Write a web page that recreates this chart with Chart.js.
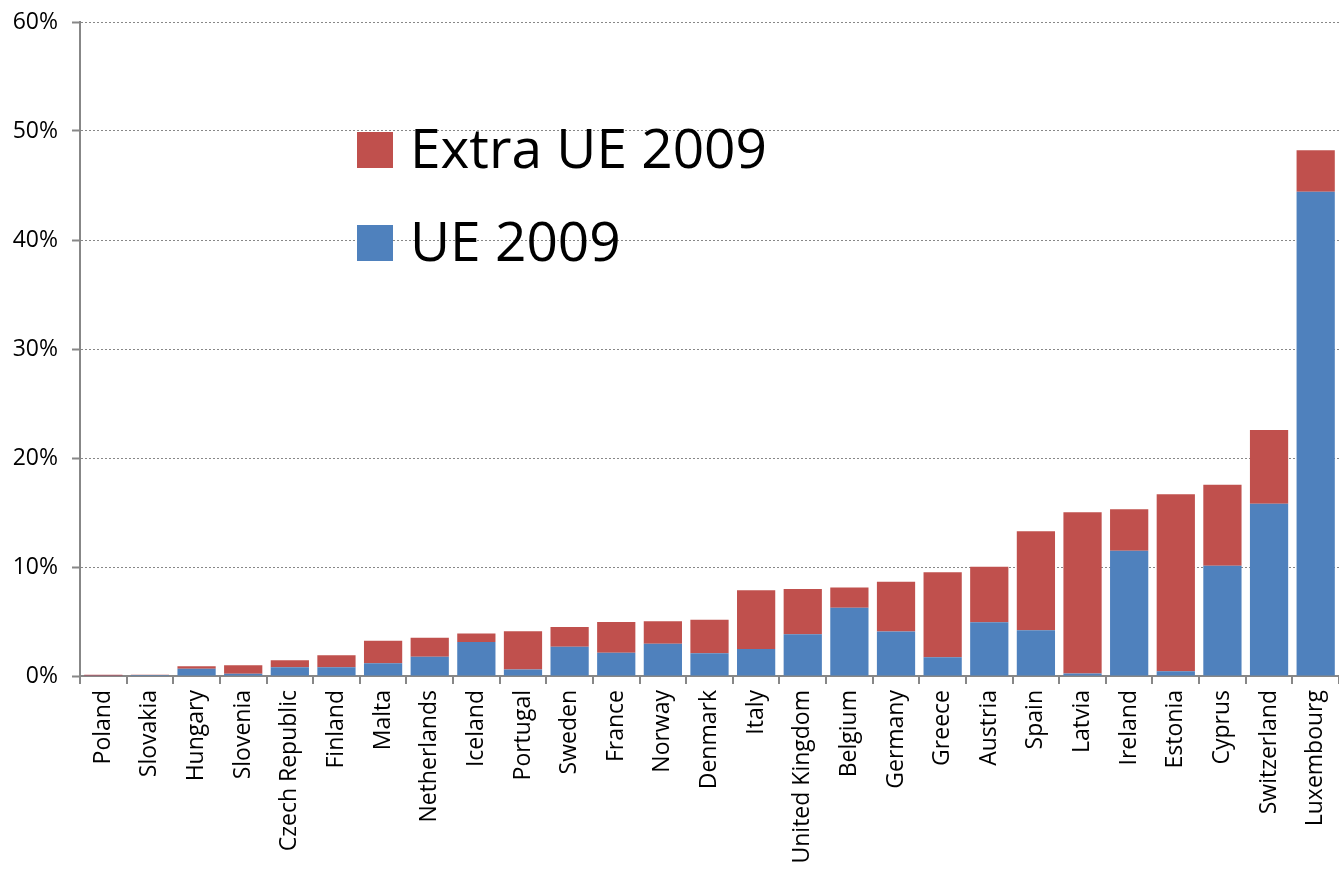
<!DOCTYPE html>
<html>
<head>
<meta charset="utf-8">
<title>UE / Extra UE 2009</title>
<script src="https://cdn.jsdelivr.net/npm/chart.js@4/dist/chart.umd.min.js"></script>
<style>
    html, body { margin: 0; padding: 0; background: #fff; }
    #wrap { width: 1339px; height: 869px; position: relative; }
</style>
</head>
<body>
<div id="wrap"><canvas id="grafico"></canvas></div>
<script>
// countries, sorted by total share
const paises = ['Poland', 'Slovakia', 'Hungary', 'Slovenia', 'Czech Republic', 'Finland', 'Malta',
    'Netherlands', 'Iceland', 'Portugal', 'Sweden', 'France', 'Norway', 'Denmark', 'Italy',
    'United Kingdom', 'Belgium', 'Germany', 'Greece', 'Austria', 'Spain', 'Latvia', 'Ireland',
    'Estonia', 'Cyprus', 'Switzerland', 'Luxembourg'];

// % values
const ue2009 = [0.02, 0.10, 0.67, 0.21, 0.80, 0.80, 1.16, 1.77, 3.12, 0.60, 2.69, 2.14, 2.97, 2.08,
    2.48, 3.82, 6.27, 4.08, 1.71, 4.92, 4.19, 0.24, 11.50, 0.43, 10.12, 15.81, 44.43];
const extraUe2009 = [0.10, 0.02, 0.22, 0.77, 0.64, 1.10, 2.08, 1.75, 0.79, 3.50, 1.81, 2.81, 2.05, 3.09,
    5.38, 4.16, 1.86, 4.57, 7.80, 5.11, 9.08, 14.78, 3.79, 16.24, 7.43, 6.76, 3.80];

const yTicks = [0, 10, 20, 30, 40, 50, 60];

const AZUL = '#4F81BD';
const ROJO = '#C0504D';
const GRIS = '#878787';

// legend drawn inside the plot, top-left, last dataset first
const leyendaInterna = {
    id: 'leyendaInterna',
    afterDraw(chart) {
        const ctx = chart.ctx;
        const sets = chart.data.datasets.slice().reverse();
        ctx.save();
        ctx.font = '55px "Open Sans"';
        ctx.textBaseline = 'alphabetic';
        ctx.textAlign = 'left';
        sets.forEach((ds, i) => {
            const top = 132 + i * 93;
            ctx.fillStyle = ds.backgroundColor;
            ctx.fillRect(357, top, 36, 36);
            ctx.fillStyle = '#000';
            ctx.fillText(ds.label, 410, top + 36);
        });
        ctx.restore();
    }
};

const ctx = document.getElementById('grafico').getContext('2d');
new Chart(ctx, {
    type: 'bar',
    data: {
        labels: paises,
        datasets: [{
            label: 'UE 2009',
            data: ue2009,
            backgroundColor: AZUL,
            borderWidth: 0,
            barPercentage: 0.82,
            categoryPercentage: 1
        }, {
            label: 'Extra UE 2009',
            data: extraUe2009,
            backgroundColor: ROJO,
            borderWidth: 0,
            barPercentage: 0.82,
            categoryPercentage: 1
        }]
    },
    options: {
        responsive: true,
        maintainAspectRatio: false,
        animation: false,
        layout: { padding: { top: 22, right: 0, left: 0, bottom: 0 } },
        plugins: {
            legend: { display: false },
            tooltip: { enabled: false }
        },
        scales: {
            x: {
                stacked: true,
                afterFit: (s) => {
                    s.height = 193;
                    s.paddingLeft = 0;
                    s.paddingRight = 0;
                },
                grid: {
                    display: true,
                    drawOnChartArea: false,
                    offset: true,
                    color: GRIS,
                    lineWidth: 2,
                    tickLength: 8
                },
                border: { display: true, color: GRIS, width: 2 },
                ticks: {
                    minRotation: 90,
                    maxRotation: 90,
                    autoSkip: false,
                    padding: 6,
                    color: '#000',
                    font: { family: '"Open Sans"', size: 23 }
                }
            },
            y: {
                stacked: true,
                min: 0,
                max: 60,
                afterFit: (s) => {
                    s.width = 80;
                    s.paddingTop = 0;
                    s.paddingBottom = 0;
                },
                afterBuildTicks: (s) => { s.ticks = yTicks.map(v => ({ value: v })); },
                grid: {
                    color: GRIS,
                    lineWidth: 1,
                    tickLength: 8,
                    tickColor: GRIS,
                    tickWidth: 2,
                    tickBorderDash: []
                },
                border: { display: true, color: GRIS, width: 2, dash: [2, 2] },
                ticks: {
                    padding: 14,
                    color: '#000',
                    font: { family: '"Open Sans"', size: 23 },
                    callback: (v) => v + '%'
                }
            }
        }
    },
    plugins: [leyendaInterna]
});
</script>
</body>
</html>
